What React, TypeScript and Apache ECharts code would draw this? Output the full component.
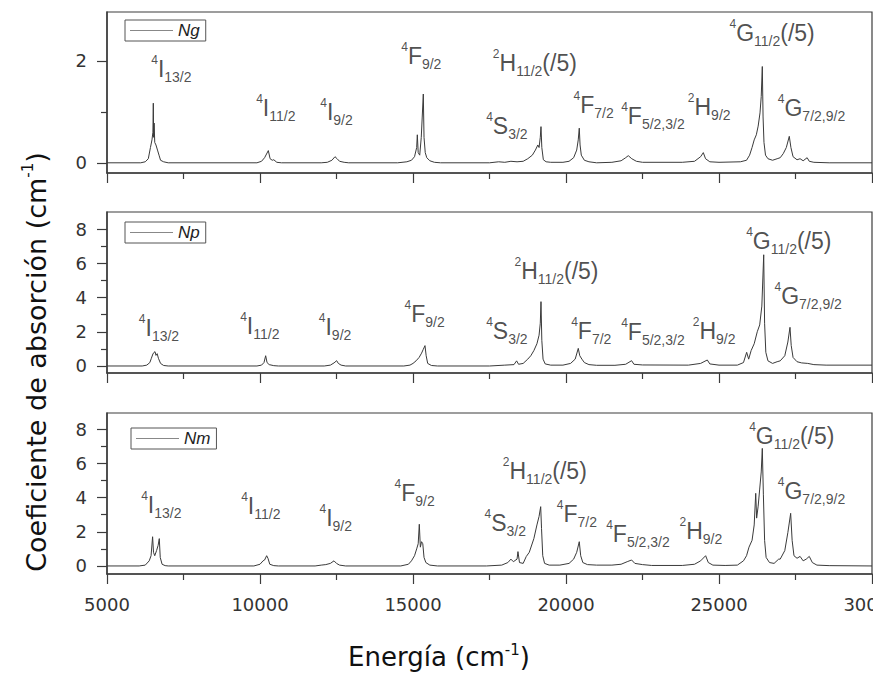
import React, { useEffect, useRef } from 'react';
import * as echarts from 'echarts';

// ---------- data ----------
const xMin = 5000;
const xMax = 30000;
const xStep = 5000;

const ngYMajor = [0, 2];
const ngYMinor = [1];
const npYMajor = [0, 2, 4, 6, 8];
const npYMinor = [1, 3, 5, 7];
const nmYMajor = [0, 2, 4, 6, 8];
const nmYMinor = [1, 3, 5, 7];

const ngSpectrum: number[][] = [
  [5000, 0], [6100, 0], [6250, 0.02], [6350, 0.08], [6420, 0.3], [6470, 0.45], [6500, 0.6], [6513, 1.17], [6525, 0.5], [6540, 0.78], [6560, 0.4], [6600, 0.35], [6650, 0.25], [6700, 0.15], [6750, 0.05], [6850, 0.02], [7000, 0],
  [9900, 0], [10050, 0.03], [10150, 0.1], [10272, 0.24], [10330, 0.08], [10400, 0.05], [10450, 0.06], [10550, 0.01], [10700, 0],
  [12000, 0], [12200, 0.01], [12350, 0.05], [12450, 0.12], [12520, 0.08], [12600, 0.03], [12750, 0.01], [12900, 0],
  [14500, 0], [14800, 0.02], [14950, 0.05], [15050, 0.12], [15120, 0.3], [15141, 0.55], [15170, 0.2], [15220, 0.15], [15270, 0.5], [15300, 0.88], [15337, 1.35], [15360, 0.5], [15400, 0.2], [15450, 0.1], [15550, 0.04], [15700, 0.01], [15900, 0],
  [17500, 0], [17800, 0.02], [18000, 0.01], [18200, 0.03], [18400, 0.02], [18600, 0.03], [18750, 0.08], [18900, 0.15], [19000, 0.25], [19080, 0.35], [19120, 0.3], [19160, 0.5], [19183, 0.71], [19210, 0.3], [19260, 0.06], [19350, 0.02], [19500, 0.01],
  [19900, 0.01], [20100, 0.03], [20250, 0.1], [20350, 0.25], [20400, 0.45], [20434, 0.68], [20460, 0.35], [20500, 0.15], [20600, 0.05], [20750, 0.02], [21000, 0],
  [21500, 0.01], [21800, 0.04], [21950, 0.1], [22035, 0.14], [22150, 0.08], [22300, 0.03], [22500, 0.01],
  [23800, 0.01], [24200, 0.03], [24400, 0.12], [24487, 0.2], [24560, 0.08], [24700, 0.02], [25000, 0.01],
  [25700, 0.02], [25900, 0.05], [26000, 0.15], [26080, 0.3], [26150, 0.45], [26220, 0.55], [26280, 0.72], [26340, 0.98], [26380, 1.3], [26415, 1.89], [26440, 0.9], [26470, 0.4], [26520, 0.15], [26600, 0.08], [26750, 0.05], [26900, 0.08],
  [27000, 0.1], [27100, 0.18], [27200, 0.3], [27297, 0.52], [27350, 0.3], [27420, 0.12], [27550, 0.06], [27650, 0.08], [27750, 0.04], [27880, 0.1], [27950, 0.03], [28100, 0.01], [28600, 0], [30000, 0],
];

const npSpectrum: number[][] = [
  [5000, 0], [6150, 0], [6300, 0.05], [6400, 0.2], [6450, 0.45], [6500, 0.7], [6540, 0.8], [6569, 0.84], [6600, 0.62], [6640, 0.72], [6680, 0.45], [6750, 0.15], [6850, 0.03], [7000, 0],
  [9900, 0], [10050, 0.05], [10130, 0.2], [10185, 0.6], [10230, 0.2], [10300, 0.08], [10450, 0.02], [10600, 0],
  [12100, 0], [12300, 0.05], [12420, 0.18], [12506, 0.31], [12560, 0.15], [12650, 0.05], [12800, 0],
  [14700, 0], [14900, 0.05], [15000, 0.15], [15100, 0.3], [15200, 0.5], [15280, 0.75], [15330, 0.95], [15392, 1.19], [15430, 0.6], [15480, 0.15], [15600, 0.03], [15800, 0],
  [17500, 0], [18000, 0.05], [18300, 0.08], [18386, 0.3], [18450, 0.1], [18600, 0.15], [18750, 0.4], [18850, 0.6], [18950, 0.9], [19050, 1.3], [19120, 1.8], [19160, 2.5], [19183, 3.76], [19210, 1.5], [19250, 0.4], [19320, 0.12], [19500, 0.05],
  [19900, 0.05], [20150, 0.15], [20300, 0.4], [20401, 1.03], [20450, 0.6], [20520, 0.4], [20600, 0.2], [20750, 0.08], [21000, 0.04],
  [21600, 0.04], [21950, 0.1], [22144, 0.31], [22220, 0.1], [22500, 0.06],
  [24000, 0.05], [24400, 0.15], [24618, 0.35], [24700, 0.12], [25000, 0.05],
  [25600, 0.05], [25800, 0.2], [25904, 0.8], [25970, 0.4], [26050, 0.9], [26150, 1.3], [26250, 2.0], [26330, 2.4], [26400, 3.5], [26461, 6.5], [26490, 2.5], [26530, 0.8], [26600, 0.3], [26750, 0.15], [26900, 0.25],
  [27000, 0.3], [27150, 0.6], [27250, 1.4], [27320, 2.26], [27360, 1.2], [27420, 0.5], [27550, 0.25], [27700, 0.18], [27900, 0.15], [28100, 0.08], [28500, 0.05], [30000, 0.05],
];

const nmSpectrum: number[][] = [
  [5000, 0], [6050, 0], [6250, 0.05], [6380, 0.3], [6440, 0.6], [6490, 1.71], [6520, 0.8], [6560, 0.6], [6620, 0.9], [6670, 1.2], [6709, 1.6], [6740, 0.5], [6800, 0.1], [6900, 0.02], [7000, 0],
  [9800, 0], [10000, 0.1], [10100, 0.3], [10150, 0.35], [10218, 0.6], [10260, 0.45], [10320, 0.1], [10450, 0.02], [10600, 0],
  [11800, 0], [12000, 0.05], [12150, 0.08], [12300, 0.15], [12418, 0.3], [12500, 0.15], [12600, 0.05], [12800, 0],
  [14600, 0], [14850, 0.1], [14950, 0.3], [15050, 0.6], [15120, 1.0], [15170, 1.3], [15206, 2.44], [15240, 1.1], [15280, 1.42], [15320, 1.3], [15360, 0.5], [15420, 0.2], [15550, 0.05], [15800, 0],
  [17400, 0], [17900, 0.05], [18100, 0.2], [18200, 0.4], [18280, 0.25], [18400, 0.4], [18430, 0.84], [18480, 0.2], [18600, 0.15], [18700, 0.55], [18800, 0.8], [18950, 1.6], [19050, 2.4], [19120, 2.9], [19173, 3.47], [19200, 2.2], [19240, 0.6], [19300, 0.15], [19450, 0.05],
  [19800, 0.05], [20100, 0.15], [20250, 0.4], [20350, 0.8], [20434, 1.42], [20480, 0.6], [20550, 0.2], [20700, 0.08], [21000, 0.05],
  [21500, 0.05], [21800, 0.1], [22000, 0.25], [22144, 0.35], [22250, 0.15], [22500, 0.08], [22800, 0.03],
  [23800, 0.03], [24200, 0.1], [24400, 0.3], [24563, 0.6], [24650, 0.2], [24800, 0.05], [25200, 0.03],
  [25600, 0.05], [25800, 0.3], [25900, 0.6], [25980, 1.1], [26080, 1.5], [26150, 2.4], [26200, 4.25], [26230, 2.8], [26280, 3.5], [26330, 4.5], [26380, 5.5], [26415, 6.88], [26450, 4.2], [26490, 1.5], [26540, 0.5], [26650, 0.2], [26800, 0.15], [26950, 0.4],
  [27000, 0.4], [27150, 0.9], [27250, 1.95], [27342, 3.08], [27390, 1.5], [27450, 0.6], [27550, 0.45], [27650, 0.56], [27750, 0.3], [27850, 0.4], [27950, 0.56], [28050, 0.2], [28200, 0.05], [28600, 0.02], [30000, 0],
];

// [energy, value, superscript, term, subscript, suffix]
type Ann = [number, number, string, string, string, string];
const ngLabels: Ann[] = [
  [6461, 2.02, '4', 'I', '13/2', ''],
  [9892, 1.27, '4', 'I', '11/2', ''],
  [11984, 1.18, '4', 'I', '9/2', ''],
  [14631, 2.28, '4', 'F', '9/2', ''],
  [17408, 0.91, '4', 'S', '3/2', ''],
  [17626, 2.15, '2', 'H', '11/2', '(/5)'],
  [20262, 1.33, '4', 'F', '7/2', ''],
  [21820, 1.10, '4', 'F', '5/2,3/2', ''],
  [23997, 1.29, '2', 'H', '9/2', ''],
  [25360, 2.74, '4', 'G', '11/2', '(/5)'],
  [26938, 1.27, '4', 'G', '7/2,9/2', ''],
];
const npLabels: Ann[] = [
  [6056, 2.79, '4', 'I', '13/2', ''],
  [9369, 2.92, '4', 'I', '11/2', ''],
  [11938, 2.82, '4', 'I', '9/2', ''],
  [14739, 3.57, '4', 'F', '9/2', ''],
  [17408, 2.59, '4', 'S', '3/2', ''],
  [18333, 6.1, '2', 'H', '11/2', '(/5)'],
  [20186, 2.59, '4', 'F', '7/2', ''],
  [21820, 2.53, '4', 'F', '5/2,3/2', ''],
  [24160, 2.59, '2', 'H', '9/2', ''],
  [25905, 7.85, '4', 'G', '11/2', '(/5)'],
  [26830, 4.64, '4', 'G', '7/2,9/2', ''],
];
const nmLabels: Ann[] = [
  [6134, 4.15, '4', 'I', '13/2', ''],
  [9402, 4.05, '4', 'I', '11/2', ''],
  [11961, 3.37, '4', 'I', '9/2', ''],
  [14412, 4.84, '4', 'F', '9/2', ''],
  [17353, 3.08, '4', 'S', '3/2', ''],
  [17952, 6.1, '2', 'H', '11/2', '(/5)'],
  [19716, 3.57, '4', 'F', '7/2', ''],
  [21330, 2.4, '4', 'F', '5/2,3/2', ''],
  [23726, 2.59, '2', 'H', '9/2', ''],
  [26003, 8.15, '4', 'G', '11/2', '(/5)'],
  [26938, 4.93, '4', 'G', '7/2,9/2', ''],
];

// ---------- styling / layout ----------
const FONT_T = "'DejaVu Sans', sans-serif";
const FONT_A = "'Liberation Sans', Arial, sans-serif";
const AXIS_COLOR = '#3c3c3c';
const LINE_COLOR = '#3a3a3a';
const TEXT_COLOR = '#222';

const panels = [
  { name: 'Ng', data: ngSpectrum, labels: ngLabels, yMin: -0.2, yMax: 2.96, major: ngYMajor, minor: ngYMinor, top: 12, legendLeft: 125, legendTop: 20 },
  { name: 'Np', data: npSpectrum, labels: npLabels, yMin: -0.41, yMax: 9.0, major: npYMajor, minor: npYMinor, top: 212, legendLeft: 125, legendTop: 222 },
  { name: 'Nm', data: nmSpectrum, labels: nmLabels, yMin: -0.47, yMax: 8.95, major: nmYMajor, minor: nmYMinor, top: 413, legendLeft: 131, legendTop: 428 },
];

const annRich = {
  s: { fontSize: 12, lineHeight: 20, verticalAlign: 'top', fontFamily: FONT_A, color: TEXT_COLOR },
  m: { fontSize: 23, lineHeight: 30, verticalAlign: 'middle', fontFamily: FONT_A, color: TEXT_COLOR },
  b: { fontSize: 14, lineHeight: 5, verticalAlign: 'bottom', fontFamily: FONT_A, color: TEXT_COLOR },
};

function annText(a: Ann) {
  return `{s|${a[2]}}{m|${a[3]}}{b|${a[4]}}` + (a[5] ? `{m|${a[5]}}` : '');
}

function buildOption() {
  const grid: any[] = [];
  const xAxis: any[] = [];
  const yAxis: any[] = [];
  const series: any[] = [];
  const legend: any[] = [];

  panels.forEach((p, i) => {
    grid.push({ left: 107, top: p.top, width: 765, height: 161, show: true, borderColor: AXIS_COLOR, borderWidth: 1.2, containLabel: false, outerBoundsMode: 'none' });
    xAxis.push({
      type: 'value', gridIndex: i, min: xMin, max: xMax, interval: xStep,
      axisLine: { show: true, onZero: false, lineStyle: { color: AXIS_COLOR, width: 1.5 } },
      axisTick: { show: true, inside: false, length: 10, lineStyle: { color: AXIS_COLOR, width: 1.2 } },
      minorTick: { show: true, splitNumber: 2, length: 6, lineStyle: { color: AXIS_COLOR, width: 1.2 } },
      splitLine: { show: false },
      axisLabel: { show: i === 2, fontSize: 18, fontFamily: FONT_T, color: '#333', margin: 21, formatter: (v: number) => String(v), hideOverlap: false },
    });
    yAxis.push({
      type: 'value', gridIndex: i, min: p.yMin, max: p.yMax, position: 'left',
      axisLine: { show: true, onZero: false, lineStyle: { color: AXIS_COLOR, width: 1.5 } },
      axisTick: { show: true, inside: false, length: 10, customValues: p.major, lineStyle: { color: AXIS_COLOR, width: 1.2 } },
      axisLabel: { show: true, customValues: p.major, fontSize: 18, fontFamily: FONT_T, color: '#333', margin: 20 },
      splitLine: { show: false },
    });
    yAxis.push({
      type: 'value', gridIndex: i, min: p.yMin, max: p.yMax, position: 'left',
      axisLine: { show: false },
      axisTick: { show: true, inside: false, length: 6, customValues: p.minor, lineStyle: { color: AXIS_COLOR, width: 1.2 } },
      axisLabel: { show: false },
      splitLine: { show: false },
    });
    series.push({
      type: 'line', name: p.name, xAxisIndex: i, yAxisIndex: i * 2,
      data: p.data, showSymbol: false, symbol: 'none', silent: true,
      lineStyle: { color: LINE_COLOR, width: 1 }, itemStyle: { color: LINE_COLOR },
    });
    series.push({
      type: 'scatter', name: p.name + '-labels', xAxisIndex: i, yAxisIndex: i * 2,
      symbolSize: 1, silent: true, itemStyle: { color: 'rgba(0,0,0,0)' },
      label: { show: true, position: [0, 0], align: 'left', verticalAlign: 'top', offset: [0, -5], rich: annRich },
      data: p.labels.map((a) => ({ value: [a[0], a[1]], label: { formatter: annText(a) } })),
    });
    legend.push({
      data: [{ name: p.name, icon: 'rect', itemStyle: { color: '#888', borderWidth: 0 } }],
      left: p.legendLeft, top: p.legendTop, orient: 'horizontal',
      itemWidth: 43, itemHeight: 1, padding: [2, 6, 2, 5],
      borderColor: '#555', borderWidth: 1, selectedMode: false,
      textStyle: { fontStyle: 'italic', fontSize: 17, fontFamily: FONT_A, color: TEXT_COLOR },
    });
  });

  const graphic = [
    {
      type: 'text', x: 439, y: 657,
      style: {
        text: '{a|Energía (cm}{s|-1}{a|)}', align: 'center', verticalAlign: 'middle',
        rich: {
          a: { fontSize: 26, lineHeight: 30, verticalAlign: 'middle', fontFamily: FONT_T, fill: '#111', color: '#111' },
          s: { fontSize: 15, lineHeight: 22, verticalAlign: 'top', fontFamily: FONT_T, fill: '#111', color: '#111' },
        },
      },
    },
    {
      type: 'text', x: 36, y: 362, rotation: Math.PI / 2,
      style: {
        text: '{a|Coeficiente de absorción (cm}{s|-1}{a|)}', align: 'center', verticalAlign: 'middle',
        rich: {
          a: { fontSize: 27, lineHeight: 31, verticalAlign: 'middle', fontFamily: FONT_T, fill: '#111', color: '#111' },
          s: { fontSize: 15, lineHeight: 22, verticalAlign: 'top', fontFamily: FONT_T, fill: '#111', color: '#111' },
        },
      },
    },
  ];

  return { animation: false, backgroundColor: '#fff', grid, xAxis, yAxis, series, legend, graphic };
}

export default function App() {
  const ref = useRef<HTMLDivElement>(null);
  useEffect(() => {
    document.body.style.margin = '0';
    const chart = echarts.init(ref.current as HTMLDivElement, null, { renderer: 'svg' });
    chart.setOption(buildOption() as any);
    return () => chart.dispose();
  }, []);
  return <div ref={ref} style={{ width: 873, height: 673 }} />;
}
